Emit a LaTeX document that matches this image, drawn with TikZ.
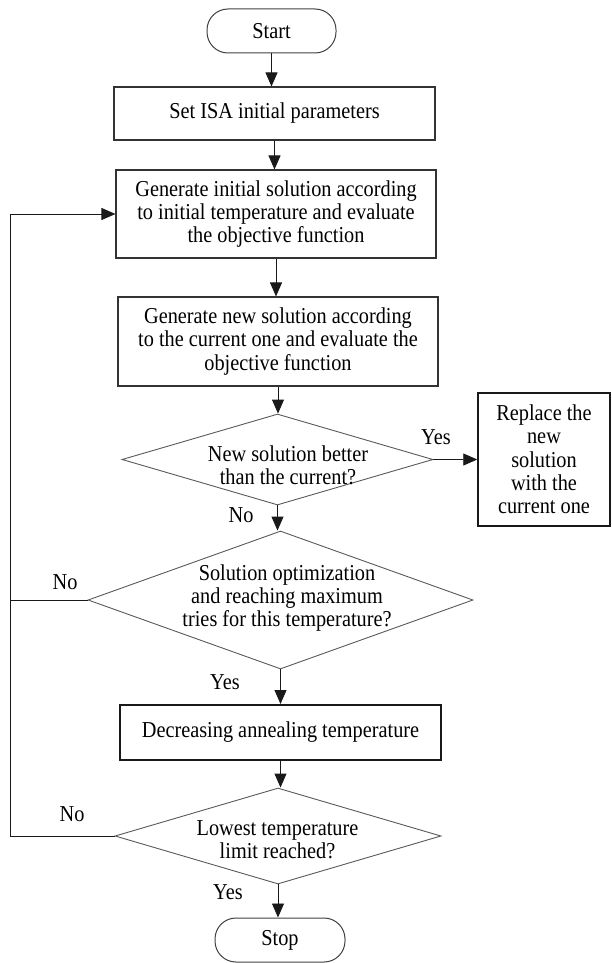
\documentclass[tikz,border=0pt]{standalone}
\usepackage{fontspec}
\usepackage{graphicx}
\setmainfont{Liberation Serif}
\usetikzlibrary{shapes.geometric,arrows.meta}
\newcommand{\tl}[1]{\scalebox{1}[1.12]{#1}}
\begin{document}
\begin{tikzpicture}[x=1pt,y=-1pt,
  every node/.style={font=\fontsize{20.3}{23.3}\selectfont},
  proc/.style={draw=black!80, line width=1.1pt, inner sep=0pt, align=center},
  thickproc/.style={draw=black!90, line width=2pt, inner sep=0pt, align=center},
  term/.style={draw=black!75, line width=1pt, rounded corners=21pt, inner sep=0pt},
  dec/.style={draw=black!65, line width=0.9pt, diamond, inner sep=0pt},
  txt/.style={align=center, inner sep=0pt},
  lbl/.style={inner sep=0pt},
  arr/.style={draw=black!90, line width=0.9pt, -{Triangle[length=14pt,width=12pt]}},
  ln/.style={draw=black!90, line width=0.9pt}]
\useasboundingbox (0,0) rectangle (611,963);

% nodes
\node[term, minimum width=129pt, minimum height=44pt] (start) at (271.5,31) {\tl{Start}};
\node[proc, minimum width=321pt, minimum height=53pt] (b1) at (274.5,113.5) {\tl{Set ISA initial parameters}};
\node[proc, minimum width=320pt, minimum height=88pt] (b2) at (276,214) {\tl{Generate initial solution according}\\\tl{to initial temperature and evaluate}\\\tl{the objective function}};
\node[proc, minimum width=320pt, minimum height=89pt] (b3) at (278,341.5) {\tl{Generate new solution according}\\\tl{to the current one and evaluate the}\\\tl{objective function}};
\node[dec, minimum width=311pt, minimum height=91pt] (d1) at (277.5,459.5) {};
\node[txt] (d1t) at (288,465) {\tl{New solution better}\\\tl{than the current?}};
\node[thickproc, line width=1.5pt, minimum width=132pt, minimum height=133pt] (rep) at (544,459.5) {\tl{Replace the}\\\tl{new}\\\tl{solution}\\\tl{with the}\\\tl{current one}};
\node[dec, minimum width=385pt, minimum height=138pt] (d2) at (280.5,600) {};
\node[txt] (d2t) at (287,598) {\tl{Solution optimization}\\\tl{and reaching maximum}\\\tl{tries for this temperature?}};
\node[thickproc, minimum width=321pt, minimum height=55pt] (b4) at (280.5,732.5) {\tl{Decreasing annealing temperature}};
\node[dec, minimum width=326pt, minimum height=96pt] (d3) at (278,836) {};
\node[txt] (d3t) at (277.5,840) {\tl{Lowest temperature}\\\tl{limit reached?}};
\node[term, minimum width=130pt, minimum height=44pt] (stop) at (280,940) {\tl{Stop}};

% labels
\node[lbl] (y1) at (436,437) {\tl{Yes}};
\node[lbl] (n1) at (241,515) {\tl{No}};
\node[lbl] (n2) at (65,582) {\tl{No}};
\node[lbl] (y2) at (225,682) {\tl{Yes}};
\node[lbl] (n3) at (72,814) {\tl{No}};
\node[lbl] (y3) at (228,892) {\tl{Yes}};

\coordinate (fb) at (10,0);

% connectors
\draw[arr] (start.south) -- (start.south |- b1.north);
\draw[arr] (b1.south) -- (b1.south |- b2.north);
\draw[arr] (b2.south) -- (b2.south |- b3.north);
\draw[arr] (b3.south) -- (b3.south |- d1.north);
\draw[arr] (d1.east) -- (rep.west);
\draw[arr] (d1.south) -- (d1.south |- d2.north);
\draw[arr] (d2.south) -- (d2.south |- b4.north);
\draw[arr] (b4.south) -- (b4.south |- d3.north);
\draw[arr] (d3.south) -- (d3.south |- stop.north);
\draw[ln] (d2.west) -- (d2.west -| fb);
\draw[arr] (d3.west) -- (d3.west -| fb) |- (b2.west);
\end{tikzpicture}
\end{document}
